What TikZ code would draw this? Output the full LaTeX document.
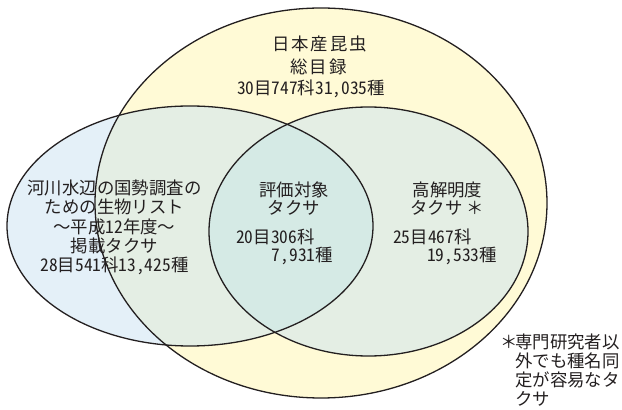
\documentclass[tikz,border=0pt]{standalone}
\usepackage{fontspec}
\setmainfont{Noto Sans CJK JP}
\newfontfamily\numfont{Noto Sans CJK JP}[RawFeature=+hwid]
\newfontfamily\widefont{Noto Sans CJK JP}[LetterSpace=11]
\definecolor{ink}{HTML}{231F20}
\definecolor{cream}{HTML}{FFFAD6}
\definecolor{paleblue}{HTML}{E4F0F8}
\definecolor{palegreen}{HTML}{E4EEE4}
\definecolor{lens}{HTML}{D5EAE5}
\begin{document}
\begin{tikzpicture}[x=1pt,y=1pt,
  txt/.style={inner sep=0pt, text=ink, font={\fontsize{17.4}{19.3}\selectfont}},
  num/.style={inner sep=0pt, text=ink, font={\numfont\fontsize{17.4}{19.3}\selectfont}},
  ttl/.style={inner sep=0pt, text=ink, font={\widefont\fontsize{17.4}{19.3}\selectfont}},
  outline/.style={draw=ink, line width=1.3pt}]
\useasboundingbox (0,0) rectangle (622,410);
% fills
\fill[cream] (321,207) ellipse [x radius=226pt, y radius=195pt];
\fill[paleblue] (190,184) ellipse [x radius=183pt, y radius=120pt];
\begin{scope}
  \clip (321,207) ellipse [x radius=226pt, y radius=195pt];
  \fill[palegreen] (190,184) ellipse [x radius=183pt, y radius=120pt];
\end{scope}
\fill[palegreen] (368.5,178.5) ellipse [x radius=159.5pt, y radius=124.5pt];
\begin{scope}
  \clip (190,184) ellipse [x radius=183pt, y radius=120pt];
  \fill[lens] (368.5,178.5) ellipse [x radius=159.5pt, y radius=124.5pt];
\end{scope}
% outlines
\draw[outline] (321,207) ellipse [x radius=226pt, y radius=195pt];
\draw[outline] (190,184) ellipse [x radius=183pt, y radius=120pt];
\draw[outline] (368.5,178.5) ellipse [x radius=159.5pt, y radius=124.5pt];
% title
\node[ttl] (t1) at (319.5,366.5) {日本産昆虫};
\node[ttl] (t2) at (318.5,343.5) {総目録};
\node[num] (t3) at (311,321) {30目747科31,035種};
% left
\node[txt, align=center] (l1) at (114.5,182.5) {河川水辺の国勢調査の\\ための生物リスト\\～平成{\numfont 12}年度～\\掲載タクサ\\{\numfont 28目541科13,425種}};
% lens
\node[txt] (c1) at (294,220.5) {評価対象};
\node[txt] (c2) at (294,202) {タクサ};
\node[num, anchor=west] (c3) at (236,173) {20目306科};
\node[num, anchor=east] (c4) at (333,154) {7,931種};
% right
\node[txt] (r1) at (447.5,220.5) {高解明度};
\node[txt, anchor=west] (r2) at (410,202) {タクサ ＊};
\node[num, anchor=west] (r3) at (393,173) {25目467科};
\node[num, anchor=east] (r4) at (497,154) {19,533種};
% footnote
\node[txt, anchor=west] (f1) at (503,68) {\makebox[12pt][c]{＊}専門研究者以};
\node[txt, anchor=west] (f2) at (515,49) {外でも種名同};
\node[txt, anchor=west] (f3) at (515,30) {定が容易なタ};
\node[txt, anchor=west] (f4) at (515,11) {クサ};
\end{tikzpicture}
\end{document}
